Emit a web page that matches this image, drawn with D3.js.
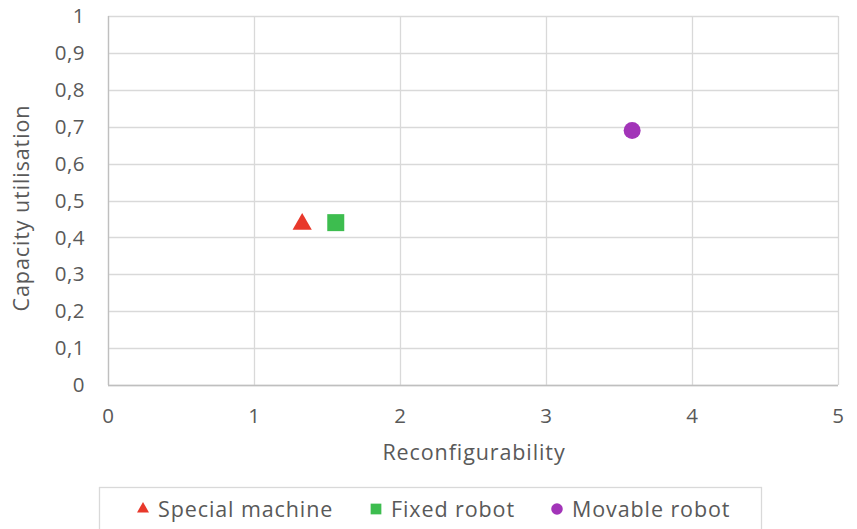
<!DOCTYPE html>
<html>
<head>
<meta charset="utf-8">
<script src="https://cdn.jsdelivr.net/npm/d3@7"></script>
<style>
  body { margin: 0; background: #fff; }
  text { font-family: "Open Sans", sans-serif; fill: #595959; }
</style>
</head>
<body>
<div id="chart"></div>
<script>
const seriesNames = ["Special machine", "Fixed robot", "Movable robot"];
const reconfigurability = [1.33, 1.56, 3.59];
const capacityUtilisation = [0.44, 0.44, 0.69];
const seriesColors = ["#e8382b", "#3dbd4f", "#a234b8"];
const seriesSymbols = [d3.symbolTriangle, d3.symbolSquare, d3.symbolCircle];
const xTicks = [0, 1, 2, 3, 4, 5];
const yTicks = [0, 0.1, 0.2, 0.3, 0.4, 0.5, 0.6, 0.7, 0.8, 0.9, 1];

const width = 857;
const height = 529;
const margin = { top: 16, right: 19, bottom: 144, left: 108 };

const svg = d3.select("#chart")
  .append("svg")
  .attr("width", width)
  .attr("height", height);

const x = d3.scaleLinear()
  .domain([0, 5])
  .range([margin.left, width - margin.right]);

const y = d3.scaleLinear()
  .domain([0, 1])
  .range([height - margin.bottom, margin.top]);

const fmt = v => String(+v.toFixed(1)).replace(".", ",");

// gridlines
svg.append("g")
  .selectAll("line.h")
  .data(yTicks)
  .enter()
  .append("line")
  .attr("x1", x(0))
  .attr("x2", x(5))
  .attr("y1", d => Math.round(y(d)) + 0.5)
  .attr("y2", d => Math.round(y(d)) + 0.5)
  .attr("stroke", "#d9d9d9")
  .attr("stroke-width", 1.3);

svg.append("g")
  .selectAll("line.v")
  .data(xTicks)
  .enter()
  .append("line")
  .attr("x1", d => Math.round(x(d)) + 0.5)
  .attr("x2", d => Math.round(x(d)) + 0.5)
  .attr("y1", y(0))
  .attr("y2", y(1))
  .attr("stroke", "#d9d9d9")
  .attr("stroke-width", 1.3);

// axis lines
svg.append("line")
  .attr("x1", x(0)).attr("x2", x(5))
  .attr("y1", Math.round(y(0)) + 0.5).attr("y2", Math.round(y(0)) + 0.5)
  .attr("stroke", "#bfbfbf").attr("stroke-width", 1.3);
svg.append("line")
  .attr("x1", Math.round(x(0)) + 0.5).attr("x2", Math.round(x(0)) + 0.5)
  .attr("y1", y(0)).attr("y2", y(1))
  .attr("stroke", "#bfbfbf").attr("stroke-width", 1.3);

// tick labels
svg.append("g")
  .selectAll("text")
  .data(yTicks)
  .enter()
  .append("text")
  .attr("x", x(0) - 23)
  .attr("y", d => y(d))
  .attr("dy", "0.35em")
  .attr("text-anchor", "end")
  .style("font-size", "20.5px")
  .style("letter-spacing", "0.5px")
  .text(fmt);

svg.append("g")
  .selectAll("text")
  .data(xTicks)
  .enter()
  .append("text")
  .attr("x", d => x(d))
  .attr("y", y(0) + 38)
  .attr("text-anchor", "middle")
  .style("font-size", "20.5px")
  .text(d => d);

// axis titles
svg.append("text")
  .attr("x", 474)
  .attr("y", 460)
  .attr("text-anchor", "middle")
  .style("font-size", "21.5px")
  .style("letter-spacing", "0.9px")
  .text("Reconfigurability");

svg.append("text")
  .attr("transform", "translate(29,208) rotate(-90)")
  .attr("text-anchor", "middle")
  .style("font-size", "21.5px")
  .style("letter-spacing", "0.9px")
  .text("Capacity utilisation");

// points
const sizes = [160, 289, 227];
svg.append("g")
  .selectAll("path")
  .data(seriesNames)
  .enter()
  .append("path")
  .attr("transform", (d, i) => `translate(${x(reconfigurability[i])},${y(capacityUtilisation[i]) + (i === 0 ? 1.5 : 0)})`)
  .attr("d", (d, i) => d3.symbol().type(seriesSymbols[i]).size(sizes[i])())
  .attr("fill", (d, i) => seriesColors[i]);

// legend
svg.append("rect")
  .attr("x", 99.5)
  .attr("y", 487.5)
  .attr("width", 662)
  .attr("height", 60)
  .attr("fill", "none")
  .attr("stroke", "#d9d9d9")
  .attr("stroke-width", 1.3);

const legendX = [143, 376, 557];
const legendSizes = [62, 115, 105];
const legend = svg.append("g")
  .selectAll("g")
  .data(seriesNames)
  .enter()
  .append("g")
  .attr("transform", (d, i) => `translate(${legendX[i]},509)`);

legend.append("path")
  .attr("d", (d, i) => d3.symbol().type(seriesSymbols[i]).size(legendSizes[i])())
  .attr("fill", (d, i) => seriesColors[i]);

legend.append("text")
  .attr("x", 15)
  .attr("dy", "0.35em")
  .style("font-size", "21.5px")
  .style("letter-spacing", "0.9px")
  .text(d => d);
</script>
</body>
</html>
